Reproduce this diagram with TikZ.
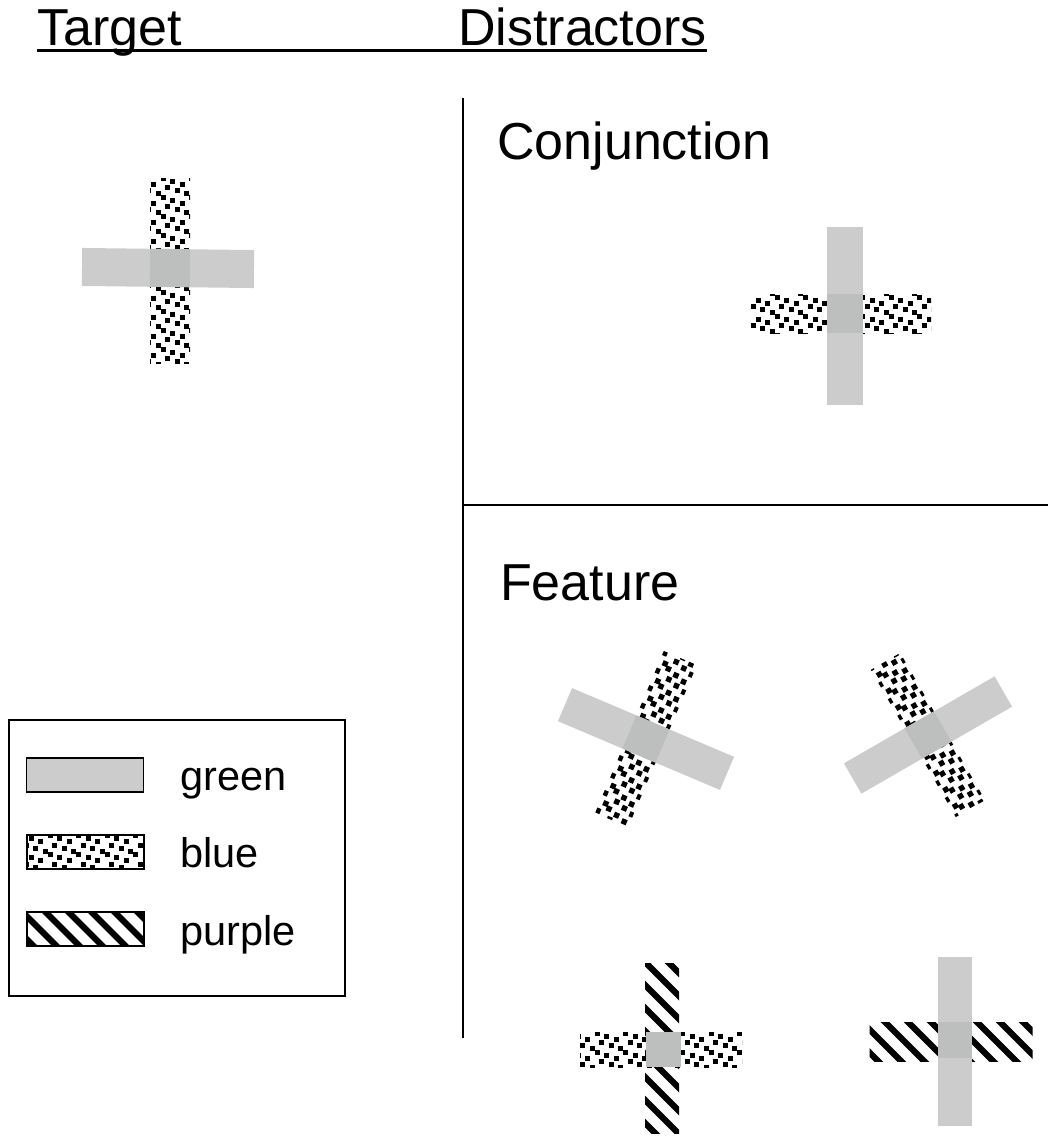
\documentclass[tikz,border=0pt]{standalone}
\usepackage{fontspec}
\setmainfont{Liberation Sans}
\usepackage{tikz}
\usetikzlibrary{calc}
\definecolor{bargrey}{HTML}{CCCCCC}
\definecolor{overlapgrey}{HTML}{BDBFBE}
\tikzset{
	bigtext/.style={inner sep=0pt,anchor=base west,font=\fontsize{52}{60}\selectfont},
	legtext/.style={inner sep=0pt,anchor=base west,font=\fontsize{41.5}{48}\selectfont},
	divider/.style={line width=1.6pt},
	legframe/.style={line width=1.3pt},
	pics/greenbar/.style 2 args={code={\fill[bargrey] (-#1/2,-#2/2) rectangle (#1/2,#2/2);}},
	pics/overlap/.style 2 args={code={\fill[overlapgrey] (-#1/2,-#2/2) rectangle (#1/2,#2/2);}},
	pics/bluebar/.style 2 args={code={
		\begin{scope}
			\clip (-#1/2,-#2/2) rectangle (#1/2,#2/2);
			\foreach \c in {-11,...,11}
			\foreach \r in {-11,...,11}
			\fill ({9.5*\c+4.5*mod(\r+40,2)},{9.5*\r+3*mod(\c+40,3)}) rectangle ++(5.4,5.4);
		\end{scope}}},
	pics/purplebar/.style 2 args={code={
		\begin{scope}
			\clip (-#1/2,-#2/2) rectangle (#1/2,#2/2);
			\foreach \k in {-12,...,12}
			\draw[line width=6.3pt] ({23*\k-120},-120) -- ++(240,240);
		\end{scope}}}
}

\begin{document}
\begin{tikzpicture}[x=1pt,y=-1pt]
	\useasboundingbox (0,0) rectangle (1048,1136);
	\node[bigtext] (target) at (37,45) {Target};
	\node[bigtext] (distractors) at (458,45) {Distractors};
	\draw[line width=3pt] ($(target.base west)+(0,5)$) -- ($(distractors.base east)+(0,5)$);
	\draw[divider] (463,98) -- (463,1038);
	\draw[divider] (463,505) -- (1048,505);
	\node[bigtext] (conj) at (497,159) {Conjunction};
	\node[bigtext] (feat) at (500,600) {Feature};
	% target
	\pic at (170,270.5) {bluebar={40}{185}};
	\pic[rotate=-0.7] at (168,268) {greenbar={172}{38}};
	\pic[rotate=-0.7] at (170,268) {overlap={40}{38}};
	% conjunction
	\pic at (841,313.5) {bluebar={180}{39}};
	\pic at (845,316) {greenbar={36}{178}};
	\pic at (845,313.5) {overlap={36}{39}};
	% feature
	\pic[rotate=-23] at (646,739) {bluebar={36}{176}};
	\pic[rotate=-23] at (646,739) {greenbar={176}{36}};
	\pic[rotate=-23] at (646,739) {overlap={36}{36}};
	\pic[rotate=30] at (928,735) {bluebar={34}{170}};
	\pic[rotate=30] at (928,735) {greenbar={174}{35}};
	\pic[rotate=30] at (928,735) {overlap={34}{35}};
	\pic at (662,1048) {purplebar={34}{170}};
	\pic at (661,1049.5) {bluebar={162}{35}};
	\pic at (663.5,1049.5) {overlap={35}{35}};
	\pic at (951,1042) {purplebar={163}{39}};
	\pic at (955,1041) {greenbar={34}{169}};
	\pic at (955,1040) {overlap={34}{36}};
	% legend
	\draw[legframe] (9,720) rectangle (345,996);
	\pic at (85,775) {greenbar={117}{34}};
	\draw[legframe] (26.5,758) rectangle (143.5,792);
	\node[legtext] (lgreen) at (180,790) {green};
	\pic at (85.5,852) {bluebar={117}{34}};
	\draw[legframe] (27,835) rectangle (144,869);
	\node[legtext] (lblue) at (180,867) {blue};
	\pic at (85.5,929) {purplebar={117}{34}};
	\draw[legframe] (27,912) rectangle (144,946);
	\node[legtext] (lpurple) at (180,945) {purple};
\end{tikzpicture}
\end{document}
